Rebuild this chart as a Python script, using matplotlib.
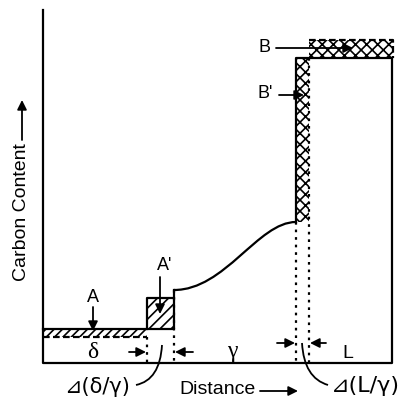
import numpy as np
import matplotlib.pyplot as plt
from matplotlib.patches import Rectangle, PathPatch
from matplotlib.path import Path

# schematic drawn in image pixel units (x to the right, y downwards)
axis_x = [43, 43, 392, 392]
axis_y = [10, 363, 363, 58]

# carbon profile: ferrite level and step up to the gamma curve
ferrite_x = [43, 174, 174]
ferrite_y = [329, 329, 290]
# gamma curve as a cubic Bezier (start, two control points, end)
gamma_x = [174, 225, 258, 296]
gamma_y = [290, 290, 222, 222]
# jump to the L level
liquid_x = [296, 296, 392]
liquid_y = [222, 58, 58]

# hatched zones (x0, y0, x1, y1)
zone_A = (43, 329, 147, 337)
zone_A2 = (147, 298, 174, 329)
zone_B2 = (296, 58, 309, 222)
zone_B = (309, 40, 393, 58)

# dotted interface markers
dot_x = [147, 174, 296, 309]
dot_top = [337, 290, 222, 58]

# leader lines to the interface labels, as quadratic Beziers
lead_d_x = [162, 160, 136]
lead_d_y = [345, 380, 385]
lead_l_x = [302, 304, 328]
lead_l_y = [343, 378, 385]

lw = 1.6
serif = ['Liberation Serif', 'DejaVu Serif']
sans = ['Liberation Sans', 'DejaVu Sans']

fig = plt.figure(figsize=(4.02, 4.01), dpi=100)
ax = fig.add_axes([0, 0, 1, 1])
ax.set_xlim(0, 402)
ax.set_ylim(401, 0)
ax.axis('off')

plt.rcParams['hatch.linewidth'] = 1.2

def zone(box, hatch):
    x0, y0, x1, y1 = box
    ax.add_patch(Rectangle((x0, y0), x1 - x0, y1 - y0, fill=False,
                           hatch=hatch, lw=0, edgecolor='black'))

def bezier(xs, ys, width):
    codes = [Path.MOVETO] + [Path.CURVE3 if len(xs) == 3 else Path.CURVE4] * (len(xs) - 1)
    ax.add_patch(PathPatch(Path(list(zip(xs, ys)), codes), fill=False,
                           lw=width, edgecolor='black'))

zone(zone_A, '////')
zone(zone_A2, '///')
zone(zone_B2, 'xxx')
zone(zone_B, 'xxx')

ax.plot(axis_x, axis_y, color='black', lw=lw)
ax.plot(ferrite_x, ferrite_y, color='black', lw=lw)
ax.plot(liquid_x, liquid_y, color='black', lw=lw)
bezier(gamma_x, gamma_y, lw)

# outlines of the hatched zones
ax.plot([43, 147], [337, 337], color='black', lw=lw, ls=(0, (3, 1.5)))
ax.plot([147, 147, 174], [329, 298, 298], color='black', lw=lw)
ax.plot([309, 393, 393], [40, 40, 58], color='black', lw=lw, ls=(0, (3, 1.5)))

for x, top in zip(dot_x, dot_top):
    ax.plot([x, x], [top, 363], color='black', lw=lw, ls=(0, (1.2, 2.2)))

def arrow(x0, y0, x1, y1):
    ax.annotate('', xy=(x1, y1), xytext=(x0, y0),
                arrowprops=dict(arrowstyle='-|>', color='black', lw=1.3,
                                mutation_scale=14, shrinkA=0, shrinkB=0))

# level labels with arrows
ax.text(93, 298, 'A', fontsize=13, family=sans, ha='center', va='center')
arrow(93, 307, 93, 331)
ax.text(165, 266, "A'", fontsize=13, family=sans, ha='center', va='center')
arrow(160, 277, 160, 314)
ax.text(265, 48, 'B', fontsize=13, family=sans, ha='center', va='center')
arrow(276, 48, 353, 48)
ax.text(265, 94, "B'", fontsize=13, family=sans, ha='center', va='center')
arrow(279, 95, 304, 95)

# width markers
ax.text(93, 352, 'δ', fontsize=17, family=serif, ha='center', va='center')
arrow(129, 352, 146, 352)
arrow(193, 352, 175, 352)
ax.text(232, 352, 'γ', fontsize=17, family=serif, ha='center', va='center')
arrow(277, 343, 295, 343)
arrow(326, 343, 310, 343)
ax.text(348, 354, 'L', fontsize=14, family=sans, ha='center', va='center')

# leaders and interface labels
bezier(lead_d_x, lead_d_y, 1.3)
bezier(lead_l_x, lead_l_y, 1.3)
ax.text(97, 387, '⊿(δ/γ)', fontsize=15, family=['DejaVu Sans'],
        ha='center', va='center')
ax.text(365, 386, '⊿(L/γ)', fontsize=16, family=['DejaVu Sans'],
        ha='center', va='center')

ax.text(179, 390, 'Distance', fontsize=14, family=sans, ha='left', va='center')
arrow(260, 391, 298, 391)
ax.text(22, 212, 'Carbon Content', fontsize=14, rotation=90,
        family=sans, ha='center', va='center')
arrow(22, 140, 22, 100)

fig.savefig('out.png', dpi=100)
